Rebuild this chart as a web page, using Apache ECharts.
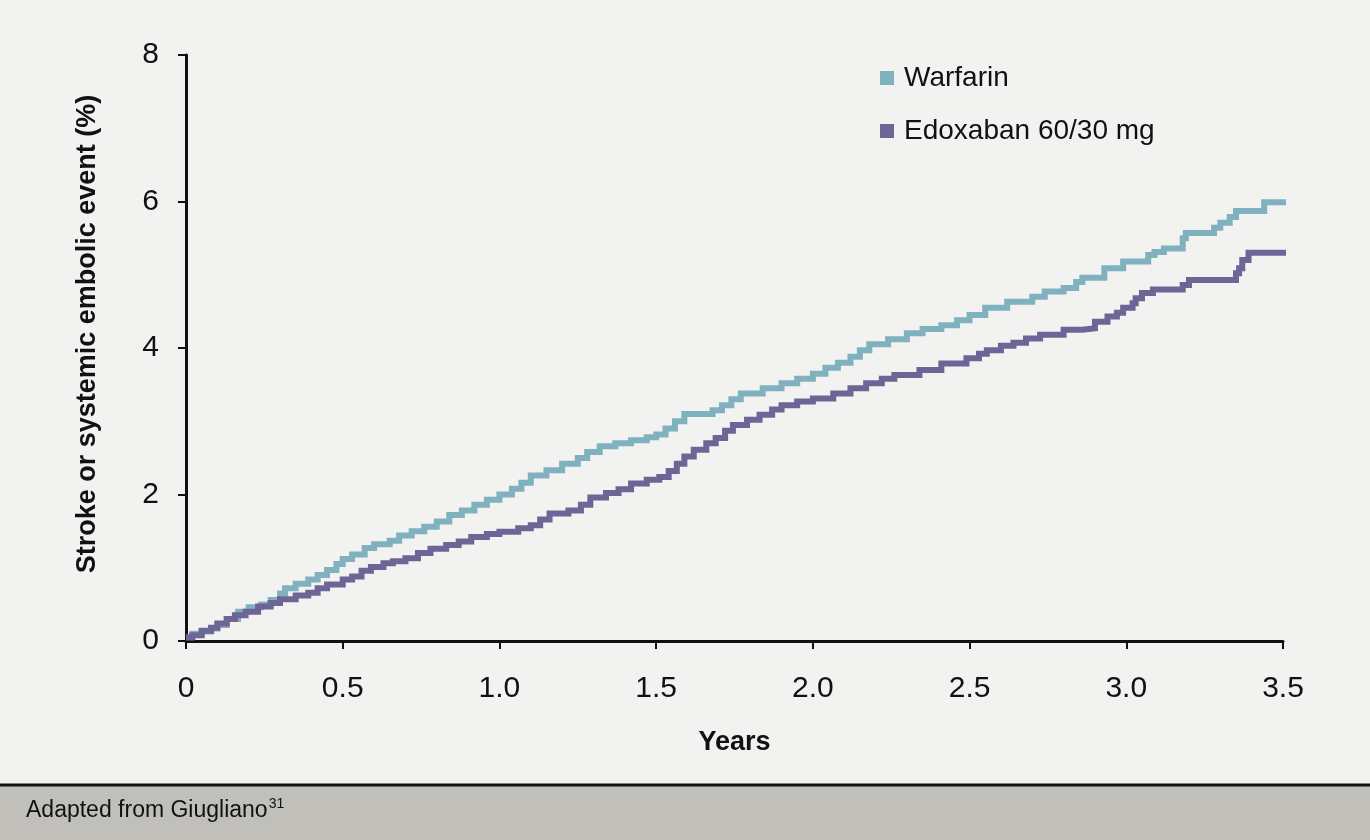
<!DOCTYPE html>
<html>
<head>
<meta charset="utf-8">
<script src="https://cdn.jsdelivr.net/npm/echarts@6/dist/echarts.min.js"></script>
<style>
html,body{margin:0;padding:0;background:#f2f2f0;}
#chart{width:1370px;height:840px;}
</style>
</head>
<body>
<div id="chart"></div>
<script>
// ---- Data (years, cumulative % with stroke or systemic embolic event) ----
const seriesNames = ['Warfarin', 'Edoxaban 60/30 mg'];
const xTickValues = [0, 0.5, 1.0, 1.5, 2.0, 2.5, 3.0, 3.5];
const yTickValues = [0, 2, 4, 6, 8];

const warfarinData = [
  [0,0.05],[0.02,0.10],[0.05,0.13],[0.08,0.17],[0.1,0.22],[0.13,0.30],[0.166,0.40],[0.2,0.46],
  [0.24,0.50],[0.27,0.56],[0.3,0.65],[0.316,0.72],[0.35,0.78],[0.39,0.84],[0.42,0.90],[0.45,0.97],
  [0.48,1.05],[0.5,1.12],[0.53,1.18],[0.57,1.27],[0.6,1.32],[0.65,1.37],[0.68,1.44],[0.72,1.50],
  [0.76,1.56],[0.8,1.63],[0.84,1.72],[0.88,1.78],[0.92,1.86],[0.96,1.93],[1.0,2.0],[1.04,2.08],
  [1.07,2.16],[1.1,2.26],[1.15,2.33],[1.2,2.42],[1.25,2.50],[1.28,2.58],[1.32,2.66],[1.37,2.70],
  [1.42,2.74],[1.47,2.78],[1.5,2.82],[1.53,2.90],[1.56,3.00],[1.59,3.10],[1.68,3.15],[1.71,3.22],
  [1.74,3.30],[1.77,3.38],[1.84,3.45],[1.9,3.52],[1.95,3.58],[2.0,3.65],[2.04,3.73],[2.08,3.80],
  [2.12,3.88],[2.15,3.97],[2.18,4.05],[2.24,4.12],[2.3,4.20],[2.35,4.26],[2.41,4.31],[2.46,4.38],
  [2.5,4.45],[2.55,4.55],[2.62,4.63],[2.7,4.70],[2.74,4.77],[2.8,4.82],[2.84,4.90],[2.86,4.96],
  [2.93,5.09],[2.99,5.18],[3.07,5.27],[3.09,5.31],[3.12,5.36],[3.18,5.50],[3.19,5.57],[3.28,5.64],
  [3.30,5.71],[3.33,5.79],[3.35,5.87],[3.44,5.99],[3.51,5.99]
];

const edoxabanData = [
  [0,0.05],[0.02,0.08],[0.05,0.14],[0.08,0.18],[0.1,0.24],[0.13,0.30],[0.156,0.35],[0.19,0.40],
  [0.23,0.47],[0.27,0.52],[0.3,0.57],[0.35,0.62],[0.39,0.66],[0.42,0.72],[0.45,0.77],[0.5,0.84],
  [0.53,0.88],[0.56,0.96],[0.59,1.01],[0.63,1.06],[0.66,1.09],[0.7,1.13],[0.74,1.20],[0.78,1.26],
  [0.83,1.31],[0.87,1.36],[0.91,1.42],[0.96,1.46],[1.0,1.49],[1.06,1.54],[1.1,1.58],[1.13,1.66],
  [1.16,1.74],[1.22,1.78],[1.26,1.86],[1.29,1.96],[1.34,2.02],[1.38,2.07],[1.42,2.15],[1.47,2.20],
  [1.51,2.24],[1.54,2.32],[1.566,2.42],[1.59,2.52],[1.62,2.61],[1.66,2.70],[1.69,2.77],[1.72,2.87],
  [1.745,2.95],[1.79,3.02],[1.83,3.09],[1.87,3.16],[1.9,3.22],[1.95,3.27],[2.0,3.31],[2.065,3.38],
  [2.12,3.45],[2.17,3.52],[2.22,3.58],[2.26,3.63],[2.34,3.70],[2.41,3.79],[2.49,3.86],[2.53,3.92],
  [2.555,3.97],[2.6,4.03],[2.64,4.07],[2.68,4.13],[2.725,4.18],[2.8,4.25],[2.86,4.27],[2.9,4.36],
  [2.94,4.43],[2.97,4.48],[2.99,4.55],[3.02,4.61],[3.03,4.68],[3.05,4.75],[3.085,4.80],[3.18,4.86],
  [3.2,4.93],[3.35,5.02],[3.36,5.09],[3.37,5.20],[3.39,5.30],[3.51,5.30]
];

const xAxisTitle = 'Years';
const yAxisTitle = 'Stroke or systemic embolic event (%)';
const sourceText = 'Adapted from Giugliano';
const sourceRef = '31';

const colors = ['#80b1bf', '#6e6597'];
const FONT = '"Liberation Sans", Arial, sans-serif';

const chart = echarts.init(document.getElementById('chart'));
const option = {
  backgroundColor: '#f2f2f0',
  animation: false,
  grid: { left: 186, right: 87, top: 55, bottom: 199, containLabel: false },
  legend: {
    data: seriesNames,
    orient: 'vertical',
    left: 880,
    top: 63,
    padding: 0,
    icon: 'rect',
    itemWidth: 14,
    itemHeight: 14,
    itemGap: 23,
    textStyle: { fontFamily: FONT, fontSize: 28, color: '#111', lineHeight: 30, padding: [0,0,0,5] }
  },
  xAxis: {
    type: 'value',
    min: 0, max: 3.5, interval: 0.5,
    name: xAxisTitle,
    nameLocation: 'middle',
    nameGap: 88,
    nameTextStyle: { fontFamily: FONT, fontSize: 27, fontWeight: 'bold', color: '#111' },
    axisLine: { show: true, lineStyle: { color: '#111', width: 3 } },
    axisTick: { show: true, length: 8, inside: false, lineStyle: { color: '#111', width: 2 } },
    splitLine: { show: false },
    axisLabel: {
      margin: 33,
      fontFamily: FONT, fontSize: 30, color: '#111',
      formatter: function (v) { return v === 0 ? '0' : v.toFixed(1); }
    }
  },
  yAxis: {
    type: 'value',
    min: 0, max: 8, interval: 2,
    axisLine: { show: true, lineStyle: { color: '#111', width: 3 } },
    axisTick: { show: true, length: 8, inside: false, lineStyle: { color: '#111', width: 2 } },
    splitLine: { show: false },
    axisLabel: {
      margin: 27,
      fontFamily: FONT, fontSize: 30, color: '#111',
      formatter: function (v) { return yTickValues.indexOf(v) >= 0 ? String(v) : ''; }
    }
  },
  series: [
    {
      name: seriesNames[0], type: 'line', step: 'end', data: warfarinData,
      showSymbol: false, symbol: 'none', clip: false,
      lineStyle: { color: colors[0], width: 6, join: 'miter', cap: 'butt' }, itemStyle: { color: colors[0] }, z: 2
    },
    {
      name: seriesNames[1], type: 'line', step: 'end', data: edoxabanData,
      showSymbol: false, symbol: 'none', clip: false,
      lineStyle: { color: colors[1], width: 6, join: 'miter', cap: 'butt' }, itemStyle: { color: colors[1] }, z: 3
    }
  ],
  graphic: [
    {
      type: 'text',
      x: 88, y: 334, rotation: Math.PI / 2,
      style: {
        text: yAxisTitle, x: 0, y: 0, align: 'center', verticalAlign: 'middle',
        font: 'bold 27px ' + FONT, fill: '#111'
      }
    },
    {
      type: 'rect', shape: { x: 0, y: 786, width: 1370, height: 54 },
      style: { fill: '#c0bfba' }, silent: true
    },
    {
      type: 'line', shape: { x1: 0, y1: 785, x2: 1370, y2: 785 },
      style: { stroke: '#111', lineWidth: 3 }, silent: true
    },
    {
      type: 'text', x: 26, y: 811,
      style: {
        text: '{m|' + sourceText + '}{s|' + sourceRef + '}',
        verticalAlign: 'middle',
        rich: {
          m: { font: '23px ' + FONT, fill: '#111' },
          s: { font: '14px ' + FONT, fill: '#111', padding: [0,0,14,1] }
        }
      },
      silent: true
    }
  ]
};
chart.setOption(option);
</script>
</body>
</html>
